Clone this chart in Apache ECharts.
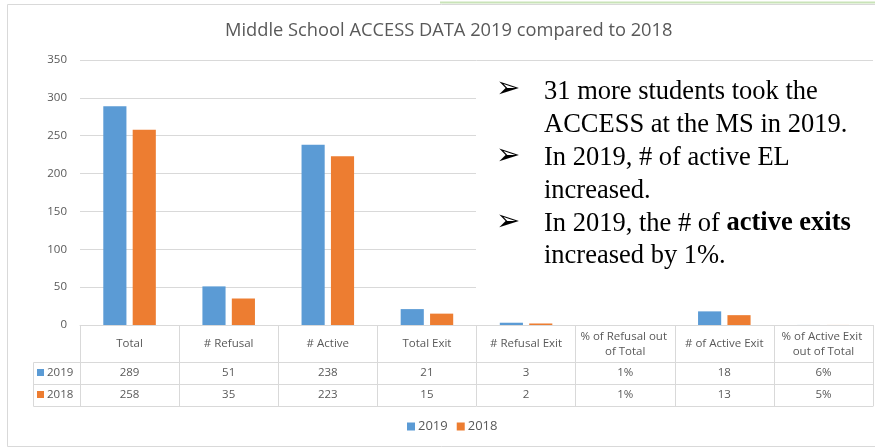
<!DOCTYPE html>
<html>
<head>
<meta charset="utf-8">
<script src="https://cdn.jsdelivr.net/npm/echarts@6/dist/echarts.min.js"></script>
<style>html,body{margin:0;padding:0;background:#fff}#c{width:875px;height:448px}</style>
</head>
<body>
<div id="c"></div>
<script>
var categories = ['Total', '# Refusal', '# Active', 'Total Exit', '# Refusal Exit', '% of Refusal out of Total', '# of Active Exit', '% of Active Exit out of Total'];
var values2019 = [289, 51, 238, 21, 3, 0.01, 18, 0.06];
var values2018 = [258, 35, 223, 15, 2, 0.01, 13, 0.05];
var seriesNames = ['2019', '2018'];
var yTicks = {min: 0, max: 350, interval: 50};
var titleText = 'Middle School ACCESS DATA 2019 compared to 2018';

var GRAY = '#595959', LINE = '#d9d9d9';
function fmt(i, arr) {
  var v = arr[i];
  if (categories[i].charAt(0) === '%') return Math.round(v * 100) + '%';
  return String(v);
}
function tableAxis(offset, arr, showLabel) {
  return {
    type: 'category', data: categories, position: 'bottom', offset: offset,
    axisLine: {show: true, lineStyle: {color: LINE}},
    axisTick: {show: false},
    splitLine: {show: false},
    axisLabel: {show: showLabel, interval: 0, margin: 11, verticalAlign: 'middle', color: GRAY, fontSize: 11.5, fontFamily: 'Open Sans',
      formatter: function (v, i) { return arr ? fmt(i, arr) : ''; }}
  };
}
var chart = echarts.init(document.getElementById('c'));
chart.setOption({
  animation: false,
  title: {text: titleText, left: 220, top: 17, textStyle: {fontFamily: 'Open Sans', fontWeight: 'normal', fontSize: 18.3, color: GRAY}},
  legend: {top: 415, left: 402, itemWidth: 8, itemHeight: 8, itemGap: 9, icon: 'rect',
    textStyle: {fontFamily: 'Open Sans', fontSize: 13, color: GRAY, padding: [0, 0, 0, -2]}, data: seriesNames},
  grid: {left: 80, right: 2, top: 60, bottom: 123},
  xAxis: [
    {type: 'category', data: categories, position: 'bottom',
      axisLine: {show: true, lineStyle: {color: LINE}},
      axisTick: {show: true, length: 81, interval: 0, lineStyle: {color: LINE}},
      axisLabel: {interval: 0, margin: 19, verticalAlign: 'middle', color: GRAY, fontSize: 11.5, fontFamily: 'Open Sans', width: 96, overflow: 'break', lineHeight: 15, align: 'center'}},
    tableAxis(37, values2019, true),
    tableAxis(59, values2018, true),
    tableAxis(81, null, false)
  ],
  yAxis: {type: 'value', min: yTicks.min, max: yTicks.max, interval: yTicks.interval,
    axisLine: {show: false}, axisTick: {show: false},
    axisLabel: {color: GRAY, fontSize: 11.5, fontFamily: 'Open Sans', margin: 13},
    splitLine: {lineStyle: {color: LINE}}},
  series: [
    {name: seriesNames[0], type: 'bar', data: values2019, itemStyle: {color: '#5b9bd5'}, barGap: '27%', barCategoryGap: '47%', z: 3},
    {name: seriesNames[1], type: 'bar', data: values2018, itemStyle: {color: '#ed7d31'}, z: 3}
  ],
  graphic: [
    {type: 'rect', z: 0, shape: {x: 7.5, y: 4.5, width: 870, height: 442}, style: {fill: 'none', stroke: LINE, lineWidth: 1}, silent: true},
    {type: 'line', shape: {x1: 440, y1: 2.5, x2: 875, y2: 2.5}, style: {stroke: '#c9e3b8', lineWidth: 2}},
    {type: 'line', shape: {x1: 33.5, y1: 362.5, x2: 80, y2: 362.5}, style: {stroke: LINE}},
    {type: 'line', shape: {x1: 33.5, y1: 384.5, x2: 80, y2: 384.5}, style: {stroke: LINE}},
    {type: 'line', shape: {x1: 33.5, y1: 406.5, x2: 80, y2: 406.5}, style: {stroke: LINE}},
    {type: 'line', shape: {x1: 33.5, y1: 362.5, x2: 33.5, y2: 406.5}, style: {stroke: LINE}},
    {type: 'rect', shape: {x: 37, y: 369, width: 7, height: 7}, style: {fill: '#5b9bd5'}},
    {type: 'text', x: 47, y: 373, style: {text: seriesNames[0], fill: GRAY, font: '11.5px "Open Sans"', verticalAlign: 'middle'}},
    {type: 'rect', shape: {x: 37, y: 391, width: 7, height: 7}, style: {fill: '#ed7d31'}},
    {type: 'text', x: 47, y: 395, style: {text: seriesNames[1], fill: GRAY, font: '11.5px "Open Sans"', verticalAlign: 'middle'}},
    {type: 'rect', z: 1, shape: {x: 476, y: 65, width: 398, height: 235}, style: {fill: '#ffffff'}, silent: true},
    {type: 'text', z: 10, left: 496, top: 73, style: {text: '➢\n\n➢\n\n➢', font: 'bold 29px "DejaVu Sans"', fill: '#000', lineHeight: 33.3}},
    {type: 'text', z: 10, left: 544, top: 76, style: {
      text: '31 more students took the\nACCESS at the MS in 2019.\nIn 2019, # of active EL\nincreased.\nIn 2019, the # of {b|active exits}\nincreased by 1%.',
      font: '26.5px "Liberation Serif"', fill: '#000', lineHeight: 32.8,
      rich: {b: {fontFamily: 'Liberation Serif', fontSize: 26.5, fontWeight: 'bold', fill: '#000', lineHeight: 32.8}}}}
  ]
});
</script>
</body>
</html>
